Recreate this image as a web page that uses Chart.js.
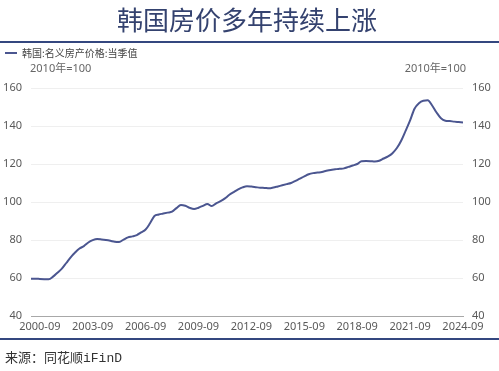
<!DOCTYPE html>
<html>
<head>
<meta charset="utf-8">
<script src="https://cdn.jsdelivr.net/npm/chart.js@4/dist/chart.umd.min.js"></script>
<style>
  html, body { margin: 0; padding: 0; background: #fff; }
  #wrap { position: relative; width: 499px; height: 371px; overflow: hidden; background: #fff; }
  #c { position: absolute; left: 0; top: 0; }
  .t { position: absolute; white-space: nowrap; font-family: "Noto Sans CJK SC", "Noto Sans", sans-serif; }
  .n { font-family: "Noto Sans", "Noto Sans CJK SC", sans-serif; }
</style>
</head>
<body>
<div id="wrap">
  <canvas id="c" width="499" height="371"></canvas>
  <div class="t" id="title" style="left:0;width:494px;text-align:center;top:2px;line-height:34px;font-size:26px;color:#34426f;">韩国房价多年持续上涨</div>
  <div style="position:absolute;left:0;top:41px;width:499px;height:2px;background:#34477f;"></div>
  <div style="position:absolute;left:5px;top:52px;width:12px;height:2px;background:#4b5690;"></div>
  <div class="t" style="left:22px;top:46px;line-height:14px;font-size:10px;color:#444;">韩国:名义房产价格:当季值</div>
  <div class="t n" style="left:30px;top:61px;line-height:14px;font-size:11px;color:#666;">2010年=100</div>
  <div class="t n" style="right:33px;top:61px;line-height:14px;font-size:11px;color:#666;">2010年=100</div>
  <div style="position:absolute;left:0;top:338px;width:499px;height:2px;background:#34477f;"></div>
  <div class="t" style="left:5px;top:348px;line-height:18px;font-size:13px;color:#333;">来源：同花顺<span style="font-family:'Liberation Mono','DejaVu Sans Mono',monospace;">iFinD</span></div>
</div>
<script>
const quarters = [];
for (let y = 2000; y <= 2024; y++) {
  for (const m of ["03", "06", "09", "12"]) {
    if (y === 2024 && m === "12") continue;
    quarters.push(y + "-" + m);
  }
}
const tickLabels = ["2000-09","2003-09","2006-09","2009-09","2012-09","2015-09","2018-09","2021-09","2024-09"];
const housePrice = [
  59.6, 59.6, 59.5, 59.4, 59.3, 60.7, 62.8, 64.9, 67.9, 70.9,
  73.4, 75.5, 76.8, 78.7, 79.9, 80.5, 80.3, 80.0, 79.6, 79.1,
  79.0, 80.2, 81.4, 81.9, 82.6, 84.0, 85.5, 88.8, 92.6, 93.4,
  93.9, 94.4, 94.9, 96.8, 98.4, 98.0, 96.9, 96.3, 97.0, 98.0,
  99.0, 97.9, 99.3, 100.4, 101.9, 103.8, 105.2, 106.6, 107.7, 108.3,
  108.1, 107.8, 107.5, 107.4, 107.2, 107.6, 108.2, 108.8, 109.4, 110.0,
  111.1, 112.3, 113.5, 114.6, 115.2, 115.5, 115.8, 116.4, 116.9, 117.2,
  117.5, 117.7, 118.5, 119.2, 120.0, 121.5, 121.6, 121.5, 121.3, 121.7,
  122.9, 124.0, 125.7, 128.4, 132.4, 137.6, 143.0, 149.1, 152.0, 153.3,
  153.5, 150.8, 147.1, 144.1, 142.8, 142.6, 142.3, 142.1, 141.9
];
const yMin = 40, yMax = 160, yStep = 20;
const tickFont = { family: '"Noto Sans", "Noto Sans CJK SC", sans-serif', size: 11 };

new Chart(document.getElementById('c'), {
  type: 'line',
  data: {
    labels: quarters,
    datasets: [{
      label: '韩国:名义房产价格:当季值',
      data: housePrice,
      borderColor: '#4b5690',
      borderWidth: 2,
      pointRadius: 0,
      fill: false,
      cubicInterpolationMode: 'monotone',
      yAxisID: 'y'
    }]
  },
  options: {
    responsive: false,
    animation: false,
    devicePixelRatio: 1,
    layout: { padding: { top: 88, bottom: 25, left: 0, right: 0 } },
    plugins: { legend: { display: false }, tooltip: { enabled: false }, title: { display: false } },
    scales: {
      x: {
        type: 'category',
        offset: false,
        grid: { display: false, drawTicks: false },
        border: { display: true, color: '#a8a8a8', width: 1 },
        ticks: {
          autoSkip: false, maxRotation: 0, minRotation: 0, padding: 4,
          color: '#595959', font: tickFont,
          callback: function(v, i) { const l = this.getLabelForValue(v); return tickLabels.includes(l) ? l : null; }
        },
        afterFit: (s) => { s.height = 30; }
      },
      y: {
        position: 'left', min: yMin, max: yMax,
        grid: { color: (ctx) => ctx.tick && ctx.tick.value === yMin ? 'rgba(0,0,0,0)' : '#efefef', drawTicks: false },
        border: { display: false },
        ticks: { stepSize: yStep, padding: 9, color: '#595959', font: tickFont },
        afterFit: (s) => { s.width = 31; }
      },
      y2: {
        position: 'right', min: yMin, max: yMax,
        grid: { display: false, drawTicks: false },
        border: { display: false },
        ticks: { stepSize: yStep, padding: 9, color: '#595959', font: tickFont },
        afterFit: (s) => { s.width = 36; }
      }
    }
  }
});
</script>
</body>
</html>
